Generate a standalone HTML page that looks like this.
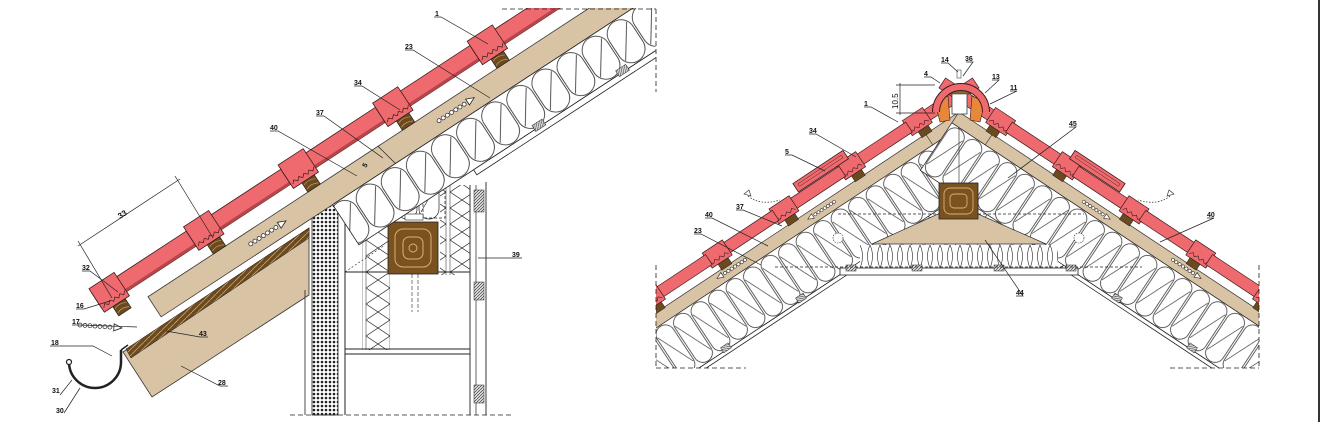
<!DOCTYPE html>
<html><head><meta charset="utf-8"><style>
html,body{margin:0;padding:0;background:#fff;}
svg{display:block;}
text{font-family:"Liberation Sans",sans-serif;font-size:7px;font-weight:bold;fill:#111;}
</style></head><body>
<svg width="1327" height="422" viewBox="0 0 1327 422" xmlns="http://www.w3.org/2000/svg">
<defs>
<pattern id="insL" patternUnits="userSpaceOnUse" x="0" y="52" width="30" height="48">
<rect x="0" y="0" width="30" height="48" fill="#fff"/>
<rect x="1" y="1" width="28" height="46" rx="14" fill="none" stroke="#222" stroke-width="0.8"/>
<line x1="4" y1="40" x2="26" y2="8" stroke="#222" stroke-width="0.7"/>
</pattern>
<pattern id="insR" patternUnits="userSpaceOnUse" x="0" y="13" width="21" height="57">
<rect x="0" y="0" width="21" height="57" fill="#fff"/>
<rect x="1" y="1" width="19" height="55" rx="9.5" fill="none" stroke="#222" stroke-width="0.7"/>
<line x1="2" y1="48" x2="19" y2="9" stroke="#222" stroke-width="0.6"/>
</pattern>
<pattern id="insV" patternUnits="userSpaceOnUse" x="0" y="0" width="22" height="44">
<rect x="0" y="0" width="22" height="44" fill="#fff"/>
<rect x="1" y="1" width="20" height="42" rx="10" fill="none" stroke="#222" stroke-width="0.7"/>
<line x1="3" y1="36" x2="19" y2="8" stroke="#222" stroke-width="0.6"/>
</pattern>
<pattern id="zig" patternUnits="userSpaceOnUse" x="0" y="0" width="28" height="16">
<rect width="28" height="16" fill="#fff"/>
<path d="M2 0 Q14 8 26 16 M26 0 Q14 8 2 16" fill="none" stroke="#222" stroke-width="0.7"/>
<path d="M2 0 L2 16 M26 0 L26 16" stroke="#222" stroke-width="0.5"/>
</pattern>
<pattern id="wave" patternUnits="userSpaceOnUse" x="0" y="245" width="10" height="23">
<rect width="10" height="23" fill="#fff"/>
<path d="M0 0 Q5 11 0 23 M10 0 Q5 11 10 23" fill="none" stroke="#222" stroke-width="0.6"/>
</pattern>
<pattern id="dots" patternUnits="userSpaceOnUse" width="4" height="4">
<rect width="4" height="4" fill="#fff"/><circle cx="2" cy="2" r="1.3" fill="#222"/>
</pattern>
<pattern id="hatch" patternUnits="userSpaceOnUse" width="3" height="3">
<rect width="3" height="3" fill="#ddd"/><path d="M0 3 L3 0" stroke="#222" stroke-width="0.6"/>
</pattern>
<pattern id="woodh" patternUnits="userSpaceOnUse" width="6" height="6">
<rect width="6" height="6" fill="#6b4a1f"/><path d="M0 6 L6 0" stroke="#c9a060" stroke-width="0.8"/>
</pattern>
<g id="vent">
<circle cx="0" cy="0" r="2" fill="#fff" stroke="#222" stroke-width="0.7"/>
<circle cx="5" cy="0" r="2" fill="#fff" stroke="#222" stroke-width="0.7"/>
<circle cx="10" cy="0" r="2" fill="#fff" stroke="#222" stroke-width="0.7"/>
<circle cx="15" cy="0" r="2" fill="#fff" stroke="#222" stroke-width="0.7"/>
<circle cx="20" cy="0" r="2" fill="#fff" stroke="#222" stroke-width="0.7"/>
<circle cx="25" cy="0" r="2" fill="#fff" stroke="#222" stroke-width="0.7"/>
<circle cx="30" cy="0" r="2" fill="#fff" stroke="#222" stroke-width="0.7"/>
<path d="M34 -3.5 L42 0 L34 3.5 Z" fill="#fff" stroke="#222" stroke-width="0.8"/>
</g>
<g id="tileL">
<rect x="0" y="-6" width="118" height="18" fill="#ee6a6e" stroke="#3a1a1a" stroke-width="0.8"/>
<rect x="1" y="9" width="116" height="3" fill="#b8454a"/>
<rect x="0" y="-11" width="30" height="28" fill="#ee6a6e" stroke="#3a1a1a" stroke-width="0.8"/>
<path d="M2 13 l3 -3 l3 3 l3 -3 l3 3 l3 -3 l3 3 l3 -3 l3 3 l3 -3" fill="none" stroke="#3a1a1a" stroke-width="0.7"/>
<rect x="10" y="17" width="15" height="11" fill="#6b4a1f" stroke="#222" stroke-width="0.6"/>
<path d="M11 20 Q17 17 24 21 M11 25 Q17 22 24 26" stroke="#c9a060" stroke-width="0.7" fill="none"/>
</g>
<g id="tileR">
<rect x="0" y="-21" width="84" height="12" fill="#ee6a6e" stroke="#3a1a1a" stroke-width="0.7"/>
<rect x="58" y="-24" width="24" height="18" fill="#ee6a6e" stroke="#3a1a1a" stroke-width="0.7"/>
<path d="M60 -9 l3 -3 l3 3 l3 -3 l3 3 l3 -3 l3 3 l3 -3" fill="none" stroke="#3a1a1a" stroke-width="0.6"/>
<rect x="63" y="-6" width="12" height="7" fill="#6b4a1f" stroke="#222" stroke-width="0.5"/>
</g>
<g id="half">
<rect x="0" y="0" width="420" height="13" fill="#d8c3a5" stroke="#333" stroke-width="0.7"/>
<rect x="0" y="13" width="420" height="57" fill="url(#insR)" stroke="#222" stroke-width="0.7"/>
<rect x="180" y="70" width="240" height="4" fill="#fff" stroke="#222" stroke-width="0.8"/>
<rect x="230" y="65" width="9" height="6" fill="url(#hatch)" stroke="#222" stroke-width="0.5"/>
<rect x="320" y="65" width="9" height="6" fill="url(#hatch)" stroke="#222" stroke-width="0.5"/>
<rect x="400" y="65" width="9" height="6" fill="url(#hatch)" stroke="#222" stroke-width="0.5"/>
<line x1="40" y1="0" x2="40" y2="13" stroke="#333" stroke-width="0.6"/>
<use href="#tileR" x="-30"/>
<use href="#tileR" x="50"/>
<use href="#tileR" x="130"/>
<use href="#tileR" x="210"/>
<use href="#tileR" x="290"/>
<use href="#tileR" x="370"/>
<rect x="118" y="-32" width="60" height="10" fill="#ee6a6e" stroke="#3a1a1a" stroke-width="0.8"/>
<rect x="122" y="-29" width="52" height="3" fill="none" stroke="#3a1a1a" stroke-width="0.4"/>
<use href="#vent" x="325" y="6.5" transform="scale(0.8)"/>
<use href="#vent" x="205" y="8" transform="scale(0.75)"/>
</g>
<clipPath id="cl"><rect x="0" y="8" width="655.5" height="414"/></clipPath>
<clipPath id="cr"><rect x="656" y="0" width="603" height="368"/></clipPath>
</defs>

<!-- LEFT DRAWING -->
<g clip-path="url(#cl)">
<polygon points="123,352 309,228 309,295 152,397" fill="#d8c3a5" stroke="#333" stroke-width="0.8"/>
<polygon points="126,349 309,228 309,238 131,358" fill="url(#woodh)" stroke="#222" stroke-width="0.5"/>
<rect x="345" y="180" width="125" height="175" fill="#fff" stroke="none"/>
<rect x="362" y="195" width="28" height="155" fill="url(#zig)"/>
<rect x="440" y="185" width="30" height="90" fill="url(#zig)"/>
<rect x="390" y="150" width="50" height="70" fill="url(#insV)"/>
<rect x="423" y="133" width="22" height="85" fill="none" stroke="#222" stroke-width="0.7" stroke-dasharray="3,2"/>
<line x1="345" y1="195" x2="345" y2="415" stroke="#222" stroke-width="1"/>
<line x1="305" y1="290" x2="305" y2="415" stroke="#222" stroke-width="0.8"/>
<rect x="312" y="205" width="26" height="210" fill="url(#dots)" stroke="#222" stroke-width="0.8"/>
<line x1="345" y1="272" x2="470" y2="272" stroke="#222" stroke-width="0.9"/>
<line x1="345" y1="349" x2="470" y2="349" stroke="#222" stroke-width="0.9"/>
<line x1="345" y1="354" x2="470" y2="354" stroke="#222" stroke-width="0.9"/>
<line x1="470" y1="185" x2="470" y2="415" stroke="#222" stroke-width="0.9"/>
<line x1="476" y1="185" x2="476" y2="415" stroke="#222" stroke-width="0.7"/>
<line x1="486" y1="182" x2="486" y2="415" stroke="#222" stroke-width="0.9"/>
<rect x="474" y="190" width="10" height="22" fill="url(#hatch)" stroke="#222" stroke-width="0.5"/>
<rect x="474" y="282" width="10" height="18" fill="url(#hatch)" stroke="#222" stroke-width="0.5"/>
<rect x="474" y="385" width="10" height="18" fill="url(#hatch)" stroke="#222" stroke-width="0.5"/>
<line x1="345" y1="272" x2="385" y2="245" stroke="#222" stroke-width="0.6" stroke-dasharray="2,2"/>
<rect x="388" y="222" width="50" height="52" fill="#7a5220" stroke="#222" stroke-width="0.8"/>
<rect x="395" y="229" width="36" height="38" rx="8" fill="none" stroke="#d9b070" stroke-width="1"/>
<rect x="403" y="237" width="20" height="22" rx="6" fill="none" stroke="#d9b070" stroke-width="1"/>
<circle cx="413" cy="248" r="4" fill="none" stroke="#d9b070" stroke-width="1"/>
<rect x="405" y="214" width="18" height="6" fill="#fff" stroke="#222" stroke-width="0.6"/>
<line x1="412" y1="274" x2="412" y2="312" stroke="#222" stroke-width="0.6" stroke-dasharray="4,2"/>
<line x1="418" y1="274" x2="418" y2="312" stroke="#222" stroke-width="0.6" stroke-dasharray="4,2"/>

<g transform="translate(95,298) rotate(-33.2)">
<rect x="45" y="28" width="700" height="24" fill="#d8c3a5" stroke="#333" stroke-width="0.8"/>
<rect x="250" y="52" width="490" height="48" fill="url(#insL)" stroke="#222" stroke-width="0.8"/>
<rect x="387" y="100" width="360" height="6" fill="#fff" stroke="#222" stroke-width="0.8"/>
<rect x="460" y="95" width="12" height="7" fill="url(#hatch)" stroke="#222" stroke-width="0.5"/>
<rect x="560" y="95" width="12" height="7" fill="url(#hatch)" stroke="#222" stroke-width="0.5"/>
<use href="#tileL" x="0"/>
<use href="#tileL" x="113"/>
<use href="#tileL" x="226"/>
<use href="#tileL" x="339"/>
<use href="#tileL" x="452"/>
<use href="#tileL" x="565"/>
<use href="#vent" x="160" y="40"/>
<use href="#vent" x="385" y="40"/>
<line x1="320" y1="28" x2="325" y2="52" stroke="#222" stroke-width="0.7"/>
</g>
</g>
<use href="#vent" x="80" y="325" transform="rotate(4 80 325)"/>
<line x1="290" y1="415" x2="512" y2="415" stroke="#222" stroke-width="0.8" stroke-dasharray="5,3"/>
<line x1="502" y1="9" x2="656" y2="9" stroke="#222" stroke-width="0.8" stroke-dasharray="5,3"/>
<line x1="656" y1="9" x2="656" y2="92" stroke="#222" stroke-width="0.8" stroke-dasharray="5,3"/>
<path d="M69 362 A26 26 0 0 0 121 362 L121 350" fill="none" stroke="#222" stroke-width="2.5"/>
<circle cx="69" cy="362" r="2.5" fill="#fff" stroke="#222" stroke-width="1.2"/>
<line x1="121" y1="350" x2="128" y2="345" stroke="#222" stroke-width="1.5"/>
<line x1="78" y1="246" x2="180" y2="179" stroke="#222" stroke-width="0.7"/>
<line x1="78" y1="241" x2="112" y2="298" stroke="#222" stroke-width="0.7"/>
<line x1="175" y1="176" x2="213" y2="238" stroke="#222" stroke-width="0.7"/>
<text x="120" y="219" transform="rotate(-33 120 219)" style="font-size:8px">33</text>

<g stroke="#222" stroke-width="0.7" fill="none">
<path d="M434 17 H441 L488 44"/>
<path d="M405 50 H413 L490 98"/>
<path d="M354 86 H362 L400 110"/>
<path d="M316 116 H324 L383 158"/>
<path d="M270 131 H278 L357 176"/>
<path d="M82 271 H90 L118 292"/>
<path d="M76 309 H84 L110 301"/>
<path d="M72 325 H80 L137 327"/>
<path d="M50 346 H93 L112 356"/>
<path d="M208 337 H200 L166 331"/>
<path d="M228 386 H220 L181 366"/>
<path d="M60 395 L72 380"/>
<path d="M64 413 L80 388"/>
<path d="M478 258 H522"/>
</g>
<text x="435" y="16">1</text>
<text x="405" y="49">23</text>
<text x="354" y="85">34</text>
<text x="316" y="115">37</text>
<text x="270" y="130">40</text>
<text x="82" y="270">32</text>
<text x="76" y="308">16</text>
<text x="72" y="324">17</text>
<text x="51" y="345">18</text>
<text x="199" y="336">43</text>
<text x="218" y="385">28</text>
<text x="52" y="393">31</text>
<text x="56" y="413">30</text>
<text x="512" y="257">39</text>
<text x="366" y="168" transform="rotate(-60 366 168)">5</text>

<!-- RIGHT DRAWING -->
<g clip-path="url(#cr)">
<polygon points="959,196 846,270 1072,270" fill="url(#insV)" stroke="#222" stroke-width="0.7"/>
<use href="#half" transform="translate(959,112) rotate(-33.5) scale(-1,1)"/>
<use href="#half" transform="translate(959,112) rotate(33.5)"/>
<line x1="959" y1="128" x2="959" y2="196" stroke="#222" stroke-width="0.6"/>
<polygon points="872,244 938,214 978,214 1046,244" fill="#d8c3a5" stroke="#333" stroke-width="0.7"/>
<rect x="860" y="245" width="198" height="23" fill="url(#wave)"/>
<rect x="840" y="268" width="238" height="7" fill="#fff" stroke="#222" stroke-width="0.8"/>
<rect x="846" y="265" width="10" height="6" fill="url(#hatch)" stroke="#222" stroke-width="0.5"/>
<rect x="912" y="265" width="10" height="6" fill="url(#hatch)" stroke="#222" stroke-width="0.5"/>
<rect x="994" y="265" width="10" height="6" fill="url(#hatch)" stroke="#222" stroke-width="0.5"/>
<rect x="1066" y="265" width="10" height="6" fill="url(#hatch)" stroke="#222" stroke-width="0.5"/>
<line x1="838" y1="214" x2="1084" y2="214" stroke="#222" stroke-width="0.7" stroke-dasharray="3,2"/>
<line x1="775" y1="267" x2="1142" y2="267" stroke="#222" stroke-width="0.7" stroke-dasharray="3,2"/>
<rect x="939" y="183" width="39" height="36" fill="#7a5220" stroke="#222" stroke-width="0.8"/>
<rect x="944" y="188" width="29" height="26" rx="6" fill="none" stroke="#d9b070" stroke-width="0.9"/>
<rect x="950" y="194" width="17" height="14" rx="4" fill="none" stroke="#d9b070" stroke-width="0.9"/>
<circle cx="838" cy="238" r="5" fill="#fff" stroke="#222" stroke-width="0.6" stroke-dasharray="1.5,1"/>
<circle cx="1079" cy="238" r="5" fill="#fff" stroke="#222" stroke-width="0.6" stroke-dasharray="1.5,1"/>
</g>
<polygon points="935,102 948,96 950,120 940,122" fill="#e8863a" stroke="#3a1a1a" stroke-width="0.6"/>
<polygon points="985,102 972,96 970,120 980,122" fill="#e8863a" stroke="#3a1a1a" stroke-width="0.6"/>
<rect x="952" y="92" width="15" height="22" fill="#fff" stroke="#222" stroke-width="0.7"/>
<rect x="950" y="87" width="19" height="7" fill="#8a6a2a" stroke="#222" stroke-width="0.5"/>
<path d="M936 112 A25 25 0 0 1 986 112" fill="none" stroke="#3a1a1a" stroke-width="8"/>
<path d="M936 112 A25 25 0 0 1 986 112" fill="none" stroke="#ee6a6e" stroke-width="6"/>
<rect x="957" y="70" width="4" height="8" fill="#fff" stroke="#222" stroke-width="0.5"/>
<path d="M748 196 Q760 206 780 200" fill="none" stroke="#222" stroke-width="0.7" stroke-dasharray="1.5,1.5"/>
<path d="M1170 196 Q1158 206 1138 200" fill="none" stroke="#222" stroke-width="0.7" stroke-dasharray="1.5,1.5"/>
<path d="M744 194 l5 -4 l2 6 z" fill="#fff" stroke="#222" stroke-width="0.6"/>
<path d="M1174 194 l-5 -4 l-2 6 z" fill="#fff" stroke="#222" stroke-width="0.6"/>
<line x1="656" y1="265" x2="656" y2="368" stroke="#222" stroke-width="0.8" stroke-dasharray="5,3"/>
<line x1="656" y1="368" x2="746" y2="368" stroke="#222" stroke-width="0.8" stroke-dasharray="5,3"/>
<line x1="1259" y1="265" x2="1259" y2="368" stroke="#222" stroke-width="0.8" stroke-dasharray="5,3"/>
<line x1="1170" y1="368" x2="1259" y2="368" stroke="#222" stroke-width="0.8" stroke-dasharray="5,3"/>
<rect x="1318" y="0" width="2" height="422" fill="#333"/>
<line x1="900" y1="83" x2="900" y2="115" stroke="#222" stroke-width="0.7"/>
<line x1="896" y1="85" x2="935" y2="85" stroke="#222" stroke-width="0.7"/>
<line x1="896" y1="113" x2="935" y2="113" stroke="#222" stroke-width="0.7"/>
<text x="898" y="109" transform="rotate(-90 898 109)" style="font-size:8px;font-weight:normal">10.5</text>
<g stroke="#222" stroke-width="0.7" fill="none">
<path d="M941 63 H948 L958 72"/>
<path d="M966 62 H973 L963 76"/>
<path d="M924 77 H931 L940 83"/>
<path d="M992 80 H999 L985 93"/>
<path d="M1010 91 H1017 L990 104"/>
<path d="M864 107 H871 L898 122"/>
<path d="M809 134 H816 L856 157"/>
<path d="M785 155 H792 L825 171"/>
<path d="M736 210 H743 L782 226"/>
<path d="M705 218 H712 L768 246"/>
<path d="M694 234 H701 L761 265"/>
<path d="M1069 127 H1076 L1008 178"/>
<path d="M1207 218 H1214 L1160 242"/>
<path d="M1016 296 H1023 L985 240"/>
</g>
<text x="941" y="62">14</text>
<text x="965" y="61">36</text>
<text x="924" y="76">4</text>
<text x="992" y="79">13</text>
<text x="1010" y="90">11</text>
<text x="864" y="106">1</text>
<text x="809" y="133">34</text>
<text x="785" y="154">5</text>
<text x="736" y="209">37</text>
<text x="705" y="217">40</text>
<text x="694" y="233">23</text>
<text x="1069" y="126">45</text>
<text x="1207" y="217">40</text>
<text x="1016" y="295">44</text>
</svg>
</body></html>
